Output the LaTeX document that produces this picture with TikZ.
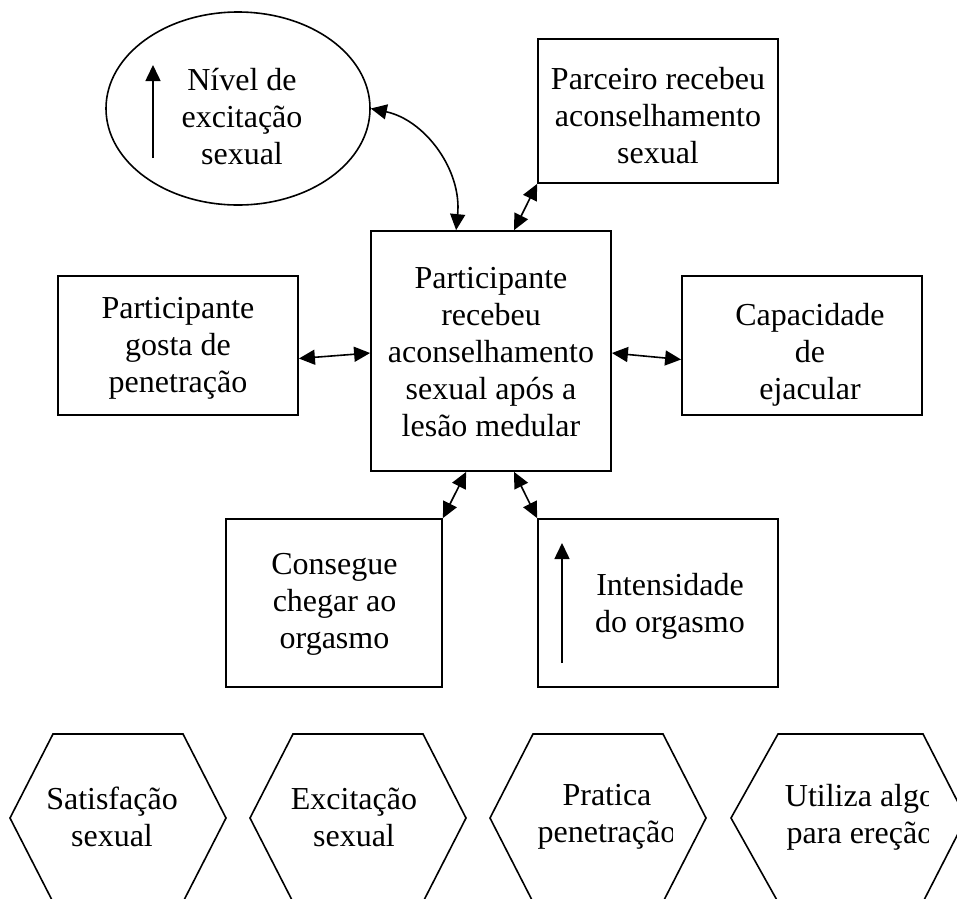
\documentclass[tikz,border=0pt]{standalone}
\usepackage{fontspec}
\setmainfont{Liberation Serif}
\usetikzlibrary{shapes.geometric,arrows.meta,calc}
\begin{document}
\begin{tikzpicture}[x=1pt,y=-1pt,
  box/.style={draw, line width=1.8pt, rectangle, inner sep=0pt},
  oval/.style={draw, line width=1.6pt, ellipse, inner sep=0pt},
  hexline/.style={draw, line width=1.6pt, line join=miter},
  txt/.style={align=center, inner sep=0pt, font=\fontsize{32}{37}\selectfont},
  tip/.tip={Triangle[length=16pt,width=15pt]},
  dbl/.style={line width=1.6pt, tip-tip},
  sgl/.style={line width=1.6pt, -tip}]
\useasboundingbox (0,0) rectangle (957,898);

% shapes
\node[oval, minimum width=264pt, minimum height=193pt] (ell) at (238,108.5) {};
\node[box, minimum width=240pt, minimum height=144pt] (parc) at (658,111) {};
\node[box, minimum width=240pt, minimum height=240pt] (cbox) at (491,351) {};
\node[box, minimum width=240pt, minimum height=139pt] (lbox) at (178,345.5) {};
\node[box, minimum width=240pt, minimum height=139pt] (rbox) at (802,345.5) {};
\node[box, minimum width=216pt, minimum height=168pt] (cons) at (334,603) {};
\node[box, minimum width=240pt, minimum height=168pt] (ints) at (658,603) {};

% texts
\node[txt] (tell) at (242,117) {Nível de\\excitação\\sexual};
\node[txt] (tparc) at (658,116) {Parceiro recebeu\\aconselhamento\\sexual};
\node[txt] (tc) at (491,352) {Participante\\recebeu\\aconselhamento\\sexual após a\\lesão medular};
\node[txt] (tl) at (178,348) {Participante\\gosta de\\penetração};
\node[txt] (tr) at (810,355) {Capacidade\\de\hspace{12pt}\\ejacular\hspace{6pt}};
\node[txt] (tcons) at (334.5,604) {Consegue\\chegar ao\\orgasmo};
\node[txt] (tint) at (670,606) {Intensidade\\do orgasmo};

% inner arrows
\coordinate (ea0) at (153,158);
\coordinate (ea1) at (153,65);
\draw[sgl] (ea0) -- (ea1);
\coordinate (ia0) at (562,663);
\coordinate (ia1) at (562,543);
\draw[sgl] (ia0) -- (ia1);

% connectors
\draw[dbl] (ell.east) .. controls (425,120) and (462,170) .. ([xshift=86pt]cbox.north west);
\draw[dbl] (parc.south west) -- ([xshift=144pt]cbox.north west);
\draw[dbl] ([yshift=-13pt]lbox.east) -- ([yshift=-2pt]cbox.west);
\draw[dbl] ([yshift=-2pt]cbox.east) -- ([yshift=-14pt]rbox.west);
\draw[dbl] (cons.north east) -- ([xshift=96pt]cbox.south west);
\draw[dbl] (ints.north west) -- ([xshift=144pt]cbox.south west);

% hexagons
\draw[hexline] (10,818) -- (53,734) -- (183,734) -- (226,818) -- (183,902) -- (53,902) -- cycle;
\draw[hexline] (250,818) -- (293,734) -- (423,734) -- (466,818) -- (423,902) -- (293,902) -- cycle;
\draw[hexline] (490,818) -- (533,734) -- (663,734) -- (706,818) -- (663,902) -- (533,902) -- cycle;
\draw[hexline] (731,818) -- (778,734) -- (923,734) -- (966,818) -- (923,902) -- (778,902) -- cycle;

\node[txt] (h1) at (112,817) {Satisfação\\sexual};
\node[txt] (h2) at (354,817) {Excitação\\sexual};
\begin{scope}
\clip (520,760) rectangle (672,870);
\node[txt] (h3) at (607,817) {Pratica\\penetração};
\end{scope}
\begin{scope}
\clip (760,760) rectangle (928,870);
\node[txt] (h4) at (860,817) {Utiliza algo\\para ereção};
\end{scope}
\end{tikzpicture}
\end{document}
